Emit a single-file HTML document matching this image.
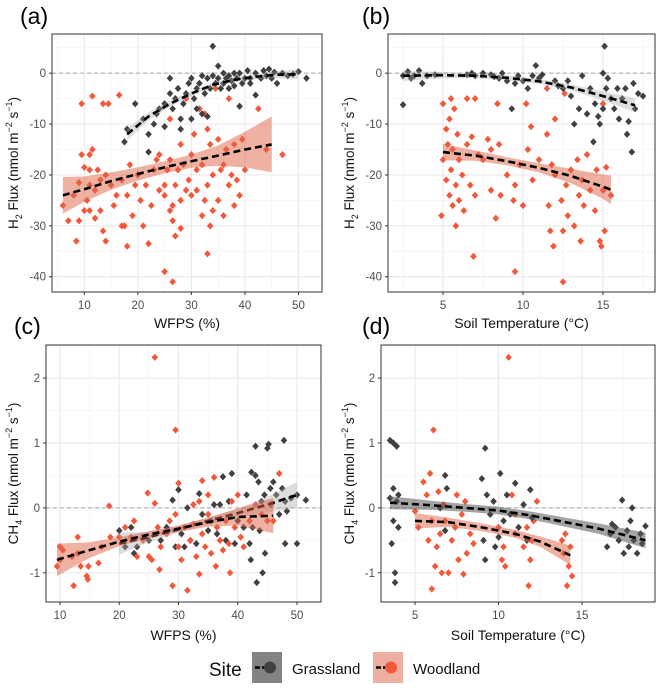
<!DOCTYPE html>
<html><head><meta charset="utf-8"><style>
body{margin:0;background:#fff;}
svg{display:block;font-family:"Liberation Sans",sans-serif;}
</style></head><body>
<svg id="chart" width="657" height="694" viewBox="0 0 657 694"></svg>
<script>
// ---- data ----
const grassA=[[17.5,-13.5],[18,-11],[19.5,-6],[21,-9],[22,-12],[22,-15.5],[23,-10],[23.5,-8],[24,-7],[25,-10.5],[25,-6],[26,-4],[26,-1],[26.5,-7],[27,-5],[27.5,-3],[28,-9],[28,-11],[28.5,-6],[29,-4],[29.5,-2],[30,-9],[30,-1],[30.5,-5],[31,-3],[31,-7],[31.5,-2],[32,-8],[32,-0.5],[32.5,-4],[33,-1],[33,-8.5],[33.5,-3],[34,5.3],[34,-0.5],[34.5,-2],[35,1.4],[35,-1],[35.5,-3],[36,0],[36,-2],[36.5,-1],[37,-0.5],[37,-3],[37.5,-1.5],[38,0],[38,-2.5],[38.5,-1],[39,-6.5],[39,0],[39.5,-2],[40,-1],[40.5,0.5],[41,-2],[41,-1],[42,-4.3],[42,0],[43,-1],[43.5,0.5],[44,-0.5],[44.5,0.8],[45,-1],[45.5,0.2],[46,-2],[47,0],[48,-0.5],[49,-0.2],[50,0.3],[51.5,-1]];
const grassAFit=[[18,-12,1.2],[22,-8.5,0.8],[26,-6,0.6],[30,-4,0.5],[34,-2.3,0.4],[38,-1.3,0.4],[42,-0.7,0.5],[46,-0.3,0.7],[50,-0.2,1]];
const woodA=[[6,-26],[7,-29],[8,-24],[8.5,-33],[9,-29],[9,-21.5],[9.5,-6],[9.5,-16],[10,-18.5],[10,-27],[10.5,-25],[11,-16],[11,-22],[11,-27],[11,-19],[11.5,-15],[11.5,-4.5],[12,-28.5],[12,-23],[12.5,-19],[13,-21],[13,-27],[13.5,-31],[13.5,-6],[14,-33],[14,-20],[14.5,-6],[15,-22],[15.5,-26],[16,-24],[16.5,-4.3],[17,-30],[17,-21],[17.5,-30],[18,-34],[18,-24],[18.5,-18],[19,-28],[19.5,-22],[20,-20],[20.5,-25],[21,-30],[21.5,-22],[22,-33.5],[22.5,-26],[23,-19],[23.5,-17],[24,-23],[24,-16],[25,-39],[25,-22],[25,-24],[25.5,-19],[26,-17],[26,-27],[26,-9],[26.5,-41],[26.5,-26],[26.5,-29],[27,-22],[27,-32],[27.5,-19],[28,-30.5],[28,-14],[28,-25],[28.5,-18],[29,-23],[29,-5],[29.5,-21],[30,-16],[30,-24],[30.5,-12],[31,-23],[31,-19],[31.5,-7],[32,-28],[32,-18],[32.5,-25],[32.5,-8],[33,-35.5],[33,-11],[33,-22],[33.5,-30],[33.5,-14],[34,-20],[34,-27],[34.5,-3],[35,-13],[35,-25],[35.5,-19],[36,-18],[36,-28],[36.5,-15],[37,-22],[37,-5],[37.5,-20],[38,-14],[38,-26],[38.5,-21],[39,-24],[39.5,-13],[40,-19],[42.5,-7],[44,-15],[47,-16]];
const woodAFit=[[6,-24,3.6],[10,-22.8,2.5],[15,-21.2,1.7],[20,-19.8,1.3],[25,-18.5,1.2],[30,-17.3,1.3],[35,-16.2,2],[40,-15,3.5],[45,-14,5.5]];
const grassB=[[2.5,-0.5],[2.5,-6.2],[2.8,0.3],[3,-1],[3.2,-0.5],[3.5,0.5],[3.7,-2],[4,-0.5],[4.5,-0.3],[6.5,-0.3],[6.8,0],[7,-0.5],[7.5,0],[8,-0.3],[8.2,-0.7],[8.5,-1],[8.7,0],[9,-1.5],[9.3,-7],[9.5,-2],[9.7,-0.5],[10,-1.5],[10.3,-3],[10.6,-0.5],[10.8,1.5],[11,-1],[11.2,-0.3],[12,-1.5],[12.2,-2.5],[12.5,-3],[12.8,-1.5],[13,-4.5],[13.2,-10],[13.5,-7],[13.7,-0.5],[14,-8],[14.2,-3],[14.4,-13.5],[14.5,-6],[14.7,-8.5],[14.8,-10],[15,-7],[15,0],[15.1,5.3],[15.2,-3],[15.3,-1],[15.5,-5],[15.7,-7],[15.9,-3],[16,-9],[16.2,-5],[16.4,-3],[16.5,-12],[16.6,-9.5],[16.8,-15.5],[16.9,-2],[17,-7],[17.2,-4],[17.5,-4.5]];
const grassBFit=[[2.5,-0.5,1],[5,-0.4,0.6],[7,-0.5,0.5],[9,-0.9,0.5],[11,-1.6,0.5],[13,-2.8,0.6],[15,-4.5,0.9],[17,-6.3,1.4]];
const woodB=[[4.9,-28],[5,-17],[5,-6],[5.2,-11],[5.2,-21],[5.3,-14],[5.4,-24],[5.4,-9],[5.5,-5],[5.5,-19],[5.6,-26],[5.6,-15],[5.7,-7],[5.8,-22],[5.8,-30],[5.9,-12],[6,-25],[6,-17],[6.2,-20],[6.3,-27],[6.5,-5],[6.5,-14],[6.7,-22],[6.8,-12.5],[6.9,-36],[7,-5],[7,-24],[7.2,-16],[7.5,-17],[7.8,-13],[8,-23],[8,-15],[8.3,-28.5],[8.4,-6],[8.5,-14],[8.6,-24],[9,-20],[9.4,-25],[9.5,-39],[9.5,-22],[9.8,-18],[10,-26],[10.2,-6],[10.3,-15],[10.5,-10.5],[10.6,-21],[11,-17],[11.5,-12],[11.5,-3],[11.6,-26],[11.7,-31],[11.8,-18],[11.9,-34],[12,-9],[12,-20],[12.4,-25],[12.5,-41],[12.5,-31],[12.6,-4],[12.7,-22],[12.8,-28],[13,-19],[13.2,-30],[13.4,-17],[13.5,-24],[13.6,-33],[13.7,-21],[13.8,-26],[14,-16],[14.2,-23],[14.5,-27],[14.6,-19],[14.8,-33],[14.9,-34],[15,-23],[15,-6],[15.1,-31],[15.2,-18.5],[15.5,-24]];
const woodBFit=[[5,-15.5,1.6],[7,-16.2,1],[9,-17.3,0.8],[11,-18.6,0.9],[13,-20.2,1.4],[15,-22.3,2.4],[15.5,-22.9,2.8]];
const woodC=[[9.5,-0.9],[10,-0.6],[10,-0.8],[10.5,-0.65],[12,-0.75],[12.3,-1.2],[13,-0.45],[13,-0.7],[13.5,-0.9],[14.5,-1.05],[14.7,-1.1],[14.8,-0.9],[16.5,-0.85],[17,-0.6],[18.3,0.03],[18.5,-0.45],[20,-0.45],[21,-0.3],[22,-0.45],[22.5,-0.2],[23,-0.75],[24,-0.5],[24.8,0.23],[25,-0.75],[25.5,-0.8],[26,2.32],[26,0.07],[26.5,-0.3],[26.8,-0.95],[27,-0.6],[28,-0.4],[28.5,-0.2],[29,-1.2],[29.5,1.2],[29.5,-0.1],[30,0.38],[30,-0.6],[30.5,-0.8],[31,-0.3],[31.5,-1.27],[32,-0.5],[32.5,0.05],[32.5,-0.25],[33,-0.75],[33.5,-1.02],[33.5,0.1],[34,0.42],[34,-0.4],[34.5,-0.6],[35,-0.1],[35,0.2],[35.5,-0.7],[36,0.47],[36.3,-0.9],[36.5,-0.3],[37,-0.5],[37.5,-0.65],[38,-0.2],[38.5,-0.55],[38.7,-1.0],[39,0.1],[39.5,-0.3],[40,0.2],[40.5,-0.45],[41,-0.6],[42,-0.2],[43,0.05],[44,-0.1],[45,-0.2],[46,-0.2],[47,0.53]];
const woodCFit=[[9.5,-0.8,0.25],[15,-0.65,0.12],[20,-0.52,0.07],[25,-0.41,0.05],[30,-0.32,0.05],[35,-0.22,0.07],[40,-0.14,0.13],[46,-0.12,0.27]];
const grassC=[[20,-0.35],[21,-0.6],[22,-0.3],[22.5,-0.7],[23,-0.6],[25,-0.5],[27,-0.5],[28,-0.3],[29,0.12],[29.5,-0.6],[30,0.28],[30.5,-0.4],[31,-0.6],[31.5,0.0],[32,-0.5],[33,-0.55],[33.5,0.22],[34,-0.1],[35,-0.35],[35.5,-0.2],[36,0.05],[36.5,-0.4],[37,0.05],[37.5,0.48],[38,-0.5],[38.5,0.1],[39,0.53],[39.5,-0.55],[40,-0.2],[41,-0.3],[41.5,0.2],[42,-0.55],[42.2,-0.8],[42.3,0.55],[42.5,-0.3],[43,0.95],[43,0.5],[43.2,-1.15],[43.5,0.4],[43.7,-0.35],[44,0.1],[44.2,-1.0],[44.5,0.2],[44.6,-0.7],[45,0.92],[45.2,0.98],[45.5,0.3],[45.6,0.05],[46,0.4],[46.5,0.2],[47,-0.1],[47.5,0.3],[47.8,1.04],[48,0.1],[48,-0.55],[48.3,-0.05],[49,0.15],[50,-0.55],[50,0.2],[51.5,0.12]];
const grassCFit=[[20,-0.55,0.17],[25,-0.45,0.08],[30,-0.33,0.05],[35,-0.2,0.05],[40,-0.08,0.07],[45,0.05,0.12],[50,0.2,0.2]];
const grassD=[[3.5,1.04],[3.7,1.0],[3.9,0.95],[3.5,0.15],[3.7,0.3],[3.6,-0.55],[3.7,-0.2],[3.8,-1.0],[3.8,-1.15],[3.9,0.1],[4,-0.3],[4,0.2],[6.5,0.0],[6.8,0.5],[6.8,-0.35],[6.9,0.3],[9,0.45],[9.2,0.92],[9.1,-0.5],[9.2,-0.8],[9.3,0.2],[9.5,-0.1],[9.7,0.1],[9.8,-0.6],[10,-0.45],[10.1,0.53],[10.3,-0.2],[10.5,0.2],[10.7,-0.1],[11,0.38],[11.2,-0.3],[11.5,0.05],[11.7,-0.5],[11.9,0.28],[12,-0.15],[16.5,-0.6],[16.7,-0.4],[17,-0.3],[17.2,-0.5],[17.4,0.12],[17.5,-0.7],[17.7,-0.35],[17.9,-0.2],[18,0.0],[18.1,-0.5],[18.3,-0.7],[18.5,-0.4],[18.6,-0.55],[18.8,-0.28],[16.8,-0.25],[17.8,-0.6]];
const grassDFit=[[3.5,0.08,0.1],[6,0.04,0.07],[8,0.0,0.06],[10,-0.04,0.06],[12,-0.12,0.06],[14,-0.22,0.07],[16,-0.32,0.08],[18.8,-0.5,0.12]];
const woodD=[[5,-0.05],[5.2,-0.3],[5.5,0.4],[5.7,0.2],[5.8,-0.5],[5.9,0.53],[6,-0.2],[6,-1.25],[6.1,1.2],[6.2,-0.9],[6.3,-0.6],[6.4,0.25],[6.5,-0.4],[6.6,-1.0],[6.7,0.05],[6.8,-0.2],[7,-1.0],[7.2,-0.5],[7.4,-0.3],[7.5,0.2],[7.6,-0.8],[7.8,-0.1],[7.9,-1.02],[8,0.1],[8.1,-0.7],[8.3,-0.4],[8.5,-0.55],[10,-0.3],[10.2,-0.8],[10.3,-0.6],[10.4,-0.9],[10.6,2.32],[10.8,0.2],[11,-0.1],[11,-0.4],[11.5,-0.6],[11.7,-0.3],[11.8,-1.2],[11.9,-0.8],[12,-0.5],[12.1,-0.2],[12.3,0.1],[13.8,-0.5],[13.9,-0.7],[14,-0.4],[14.1,-1.2],[14.2,-0.9],[14.3,-0.6],[14.4,-1.05]];
const woodDFit=[[5,-0.2,0.12],[7,-0.22,0.07],[9,-0.3,0.06],[11,-0.4,0.06],[12.5,-0.52,0.08],[14.3,-0.73,0.15]];
const ticksWFPS=[10,20,30,40,50];
const ticksTemp=[5,10,15];
const ticksH2=[0,-10,-20,-30,-40];
const ticksCH4=[2,1,0,-1];

const NS='http://www.w3.org/2000/svg';
const svg=document.getElementById('chart');
function el(tag,attrs,parent){const e=document.createElementNS(NS,tag);for(const k in attrs)e.setAttribute(k,attrs[k]);(parent||svg).appendChild(e);return e;}
const GREY='#404040',RED='#f4583a';

function panel(p){
  const g=el('g',{});
  
  
  const sx=v=>p.x0+(v-p.xd[0])/(p.xd[1]-p.xd[0])*(p.x1-p.x0);
  const sy=v=>p.y1-(v-p.yd[0])/(p.yd[1]-p.yd[0])*(p.y1-p.y0);
  for(let i=0;i<p.xt.length;i++){const m=p.xt[i]+p.xstep/2;if(m<p.xd[1]){el('line',{x1:sx(m),x2:sx(m),y1:p.y0,y2:p.y1,stroke:'#f4f4f4','stroke-width':0.8},g);} const m2=p.xt[i]-p.xstep/2; if(i==0&&m2>p.xd[0])el('line',{x1:sx(m2),x2:sx(m2),y1:p.y0,y2:p.y1,stroke:'#f4f4f4','stroke-width':0.8},g);}
  const ys=p.yt.slice().sort((a,b)=>a-b);
  for(let v=ys[0]-p.ystep/2;v<p.yd[1];v+=p.ystep){if(v>p.yd[0])el('line',{x1:p.x0,x2:p.x1,y1:sy(v),y2:sy(v),stroke:'#f4f4f4','stroke-width':0.8},g);}
  p.xt.forEach(t=>{el('line',{x1:sx(t),x2:sx(t),y1:p.y0,y2:p.y1,stroke:'#ebebeb','stroke-width':1.2},g);
    const lb=el('text',{x:sx(t),y:p.y1+17,'text-anchor':'middle','font-size':11.5,fill:'#4d4d4d'},g);lb.textContent=t;
    
    
    el('line',{x1:sx(t),x2:sx(t),y1:p.y1,y2:p.y1+3,stroke:'#333'},g);});
  p.yt.forEach(t=>{el('line',{x1:p.x0,x2:p.x1,y1:sy(t),y2:sy(t),stroke:'#ebebeb','stroke-width':1.2},g);
    const lb=el('text',{x:p.x0-6,y:sy(t)+4,'text-anchor':'end','font-size':11.5,fill:'#4d4d4d'},g);lb.textContent=t;
    
    
    el('line',{x1:p.x0-3,x2:p.x0,y1:sy(t),y2:sy(t),stroke:'#333'},g);});
  el('line',{x1:p.x0,x2:p.x1,y1:sy(0),y2:sy(0),stroke:'#aaa','stroke-dasharray':'4,3'},g);
  const series=[[p.wood,RED,p.woodFit,'rgba(222,100,70,0.5)','woodland'],[p.grass,GREY,p.grassFit,p.grassRib,'grassland']];
  const order=p.grassFirst?[series[1],series[0]]:series;
  order.forEach(s=>{
    s[0].forEach(d=>{const x=sx(d[0]),y=sy(d[1]);const pt=el('path',{d:`M${x},${y-3.6}L${x+3.3},${y}L${x},${y+3.6}L${x-3.3},${y}Z`,fill:s[1]},g);
      
      });
  });
  order.forEach(s=>{
    const f=s[2];
    const top=f.map(d=>sx(d[0])+','+sy(d[1]+d[2])),bot=f.slice().reverse().map(d=>sx(d[0])+','+sy(d[1]-d[2]));
    const rb=el('polygon',{points:top.concat(bot).join(' '),fill:s[3]},g);
    
    
    const ln=el('polyline',{points:f.map(d=>sx(d[0])+','+sy(d[1])).join(' '),fill:'none',stroke:'#000','stroke-width':2.6,'stroke-dasharray':'7,4'},g);
    
    
  });
  el('rect',{x:p.x0,y:p.y0,width:p.x1-p.x0,height:p.y1-p.y0,fill:'none',stroke:'#333','stroke-width':1},g);
  const lab=el('text',{x:p.lx,y:p.ly,'font-size':23,fill:'#000'},g);lab.textContent=p.label;
  
  
  const xt=el('text',{x:(p.x0+p.x1)/2,y:p.y1+p.xto,'text-anchor':'middle','font-size':14,fill:'#111'},g);xt.textContent=p.xtitle;
  
  
  const yt=el('text',{transform:`translate(${p.ytx},${(p.y0+p.y1)/2}) rotate(-90)`,'text-anchor':'middle','font-size':13.5,fill:'#111'},g);
  yt.innerHTML=p.gas+'<tspan font-size="9" dy="4">'+p.sub+'</tspan><tspan dy="-4"> Flux  (nmol m</tspan><tspan font-size="9" dy="-6">−2</tspan><tspan dy="6"> s</tspan><tspan font-size="9" dy="-6">−1</tspan><tspan dy="6">)</tspan>';
  
  
}
panel({name:'panel-a',label:'(a)',lx:20,ly:24,x0:52,x1:322,y0:34,y1:292,xd:[3.96,54.4],yd:[-43,7.7],xt:ticksWFPS,xstep:10,yt:ticksH2,ystep:10,grass:grassA,grassFit:grassAFit,wood:woodA,woodFit:woodAFit,grassRib:'rgba(160,160,160,0.35)',xtitle:'WFPS (%)',xto:36,gas:'H',sub:'2',ytx:18});
panel({name:'panel-b',label:'(b)',lx:362,ly:24,x0:388,x1:655,y0:34,y1:292,xd:[1.56,18.25],yd:[-43,7.7],xt:ticksTemp,xstep:5,yt:ticksH2,ystep:10,grass:grassB,grassFit:grassBFit,wood:woodB,woodFit:woodBFit,grassRib:'rgba(160,160,160,0.35)',xtitle:'Soil Temperature (°C)',xto:36,gas:'H',sub:'2',ytx:354});
panel({name:'panel-c',label:'(c)',lx:14,ly:334,x0:46,x1:321,y0:345,y1:602,xd:[7.64,54.05],yd:[-1.45,2.51],xt:ticksWFPS,xstep:10,yt:ticksCH4,ystep:1,grass:grassC,grassFit:grassCFit,wood:woodC,woodFit:woodCFit,grassRib:'rgba(170,170,170,0.4)',grassFirst:true,xtitle:'WFPS (%)',xto:38,gas:'CH',sub:'4',ytx:18});
panel({name:'panel-d',label:'(d)',lx:362,ly:334,x0:381,x1:655,y0:345,y1:602,xd:[2.96,19.37],yd:[-1.45,2.51],xt:ticksTemp,xstep:5,yt:ticksCH4,ystep:1,grass:grassD,grassFit:grassDFit,wood:woodD,woodFit:woodDFit,grassRib:'rgba(90,90,90,0.55)',xtitle:'Soil Temperature (°C)',xto:38,gas:'CH',sub:'4',ytx:354});
// legend
const lg=el('g',{});


const st=el('text',{x:209,y:676,'font-size':19,fill:'#111'},lg);st.textContent='Site';
[[252,'rgba(100,100,100,0.8)',GREY,'Grassland',292],[373,'rgba(222,110,80,0.55)',RED,'Woodland',413]].forEach(d=>{
  const k=el('rect',{x:d[0],y:652,width:30,height:31,fill:d[1]},lg);
  
  
  el('line',{x1:d[0]+3,x2:d[0]+18,y1:667.5,y2:667.5,stroke:'#000','stroke-width':2.6,'stroke-dasharray':'5,2'},lg);
  el('circle',{cx:d[0]+18,cy:667.5,r:6,fill:d[2]},lg);
  const t=el('text',{x:d[4],y:674,'font-size':15,fill:'#111'},lg);t.textContent=d[3];
  
  
});
</script>
</body></html>
